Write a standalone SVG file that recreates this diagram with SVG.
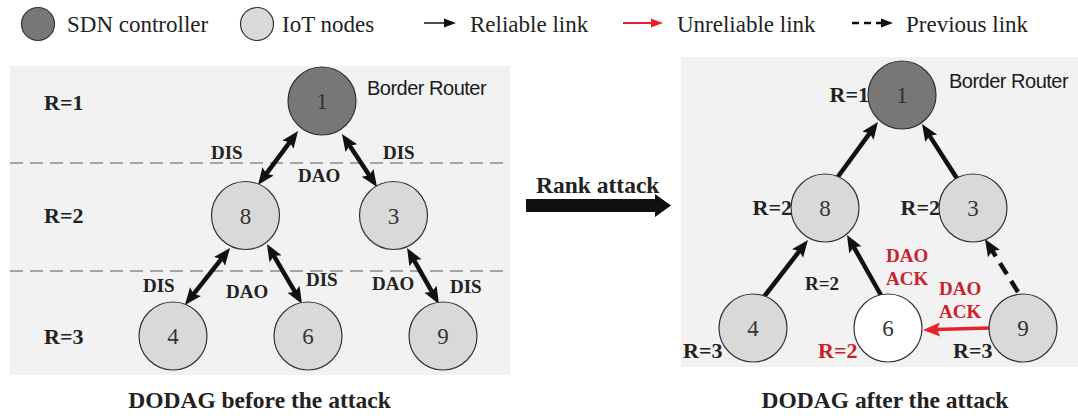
<svg xmlns="http://www.w3.org/2000/svg" width="1078" height="418" viewBox="0 0 1078 418">
  <style>
    .panel { fill: #f2f2f2; }
    .sep { stroke: #8c8c8c; stroke-width: 1.5; stroke-dasharray: 13 7; fill: none; }
    .node circle { stroke: #333; stroke-width: 1.2; }
    .ctrl { fill: #777; }
    .iot { fill: #d9d9d9; }
    .fresh { fill: #fff; }
    .num { font-family: "Liberation Serif", serif; font-size: 23px; fill: #333; text-anchor: middle; }
    .msg { font-family: "Liberation Serif", serif; font-weight: bold; font-size: 19px; fill: #222; }
    .alert { font-family: "Liberation Serif", serif; font-weight: bold; font-size: 19px; fill: #c8232c; }
    .rank { font-family: "Liberation Serif", serif; font-weight: bold; font-size: 22px; fill: #222; }
    .br { font-family: "Liberation Sans", Arial, sans-serif; font-size: 20px; fill: #1a1a1a; letter-spacing: -0.5px; }
    .legend { font-family: "Liberation Serif", serif; font-size: 23px; fill: #222; }
    .title { font-family: "Liberation Serif", serif; font-weight: bold; font-size: 23.5px; fill: #222; text-anchor: middle; }
    .link { stroke: #111; stroke-width: 4.5; fill: none; }
    .both { marker-start: url(#head); marker-end: url(#head); }
    .one { marker-end: url(#head); }
    .prev { stroke-dasharray: 13 8; }
    .bad { stroke: #e8212b; stroke-width: 3.5; fill: none; marker-end: url(#headRed); }
  </style>
  <defs>
    <marker id="head" markerUnits="userSpaceOnUse" viewBox="-1 -8 19 16" markerWidth="19" markerHeight="16" refX="5" refY="0" orient="auto-start-reverse">
      <path d="M0,-7 L17,0 L0,7 L3,0 Z" fill="#111"/>
    </marker>
    <marker id="headRed" markerUnits="userSpaceOnUse" viewBox="-1 -8 19 16" markerWidth="19" markerHeight="16" refX="5" refY="0" orient="auto">
      <path d="M0,-7 L17,0 L0,7 L3,0 Z" fill="#e8212b"/>
    </marker>
    <marker id="tipK" markerUnits="userSpaceOnUse" viewBox="-1 -6 14 12" markerWidth="14" markerHeight="12" refX="2" refY="0" orient="auto">
      <path d="M0,-4.5 L12,0 L0,4.5 Z" fill="#111"/>
    </marker>
    <marker id="tipR" markerUnits="userSpaceOnUse" viewBox="-1 -6 14 12" markerWidth="14" markerHeight="12" refX="2" refY="0" orient="auto">
      <path d="M0,-4.5 L12,0 L0,4.5 Z" fill="#e8212b"/>
    </marker>
  </defs>

  <!-- legend -->
  <g id="legend">
    <circle cx="38" cy="24" r="16.5" class="ctrl" stroke="#333" stroke-width="1.2"/>
    <text x="67" y="32" class="legend">SDN controller</text>
    <circle cx="257" cy="24" r="16.5" class="iot" stroke="#333" stroke-width="1.2"/>
    <text x="282" y="32" class="legend">IoT nodes</text>
    <line x1="424" y1="23" x2="446" y2="23" stroke="#111" stroke-width="1.5" marker-end="url(#tipK)"/>
    <text x="470" y="32" class="legend">Reliable link</text>
    <line x1="623" y1="23" x2="653" y2="23" stroke="#e8212b" stroke-width="2" marker-end="url(#tipR)"/>
    <text x="677" y="32" class="legend">Unreliable link</text>
    <line x1="852" y1="23" x2="883" y2="23" stroke="#111" stroke-width="2.5" stroke-dasharray="7 5" marker-end="url(#tipK)"/>
    <text x="906" y="32" class="legend">Previous link</text>
  </g>

  <!-- backgrounds of the two DODAG views -->
  <rect class="panel" x="10" y="66" width="500" height="309"/>
  <rect class="panel" x="681" y="57" width="397" height="310"/>
  <line class="sep" x1="10" y1="163" x2="505" y2="163"/>
  <line class="sep" x1="10" y1="271" x2="505" y2="271"/>

  <!-- rank levels, left view -->
  <text x="44" y="110" class="rank">R=1</text>
  <text x="44" y="223" class="rank">R=2</text>
  <text x="44" y="344" class="rank">R=3</text>

  <!-- connectors -->
  <g id="connectors">
    <!-- before the attack: DIS / DAO exchanges -->
    <line class="link both" x1="290.9" y1="140.6" x2="265.1" y2="175.4"/>
    <line class="link both" x1="348.6" y1="144.0" x2="370.4" y2="177.0"/>
    <line class="link both" x1="222.6" y1="257.4" x2="192.4" y2="295.6"/>
    <line class="link both" x1="273.0" y1="254.4" x2="296.0" y2="293.6"/>
    <line class="link both" x1="413.0" y1="258.4" x2="433.0" y2="293.6"/>
    <!-- after the attack -->
    <line class="link one" x1="837" y1="178" x2="870.9" y2="131.7"/>
    <line class="link one" x1="958" y1="180" x2="928.5" y2="134.1"/>
    <line class="link one" x1="763" y1="298" x2="800.6" y2="249.5"/>
    <line class="link one" x1="882" y1="297" x2="852.9" y2="245.4"/>
    <line class="link one prev" x1="1018" y1="292" x2="991.3" y2="249.2"/>
    <line class="bad" x1="990" y1="328" x2="935" y2="329.6"/>
    <!-- transition arrow -->
    <path d="M526,199 H655 V194 L671,205.5 L655,217 V212 H526 Z" fill="#111"/>
  </g>

  <!-- message labels -->
  <text x="211" y="159" class="msg">DIS</text>
  <text x="383" y="159" class="msg">DIS</text>
  <text x="298" y="182" class="msg">DAO</text>
  <text x="143" y="292" class="msg">DIS</text>
  <text x="226" y="298" class="msg">DAO</text>
  <text x="306" y="286" class="msg">DIS</text>
  <text x="372" y="290" class="msg">DAO</text>
  <text x="450" y="293" class="msg">DIS</text>
  <text x="536" y="193" class="rank" style="font-size:23.5px">Rank attack</text>

  <!-- nodes, before the attack -->
  <g id="b1" class="node"><circle cx="322" cy="101" r="34" class="ctrl"/><text x="322" y="109" class="num">1</text></g>
  <g id="b8" class="node"><circle cx="245.5" cy="215.5" r="34" class="iot"/><text x="245.5" y="223.5" class="num">8</text></g>
  <g id="b3" class="node"><circle cx="393.5" cy="215.5" r="34" class="iot"/><text x="393.5" y="223.5" class="num">3</text></g>
  <g id="b4" class="node"><circle cx="173" cy="336" r="34" class="iot"/><text x="173" y="344" class="num">4</text></g>
  <g id="b6" class="node"><circle cx="308" cy="336" r="34" class="iot"/><text x="308" y="344" class="num">6</text></g>
  <g id="b9" class="node"><circle cx="443" cy="336" r="34" class="iot"/><text x="443" y="344" class="num">9</text></g>
  <text x="367" y="95" class="br">Border Router</text>

  <!-- nodes, after the attack -->
  <g id="a1" class="node"><circle cx="902" cy="95" r="34" class="ctrl"/><text x="902" y="103" class="num">1</text></g>
  <g id="a8" class="node"><circle cx="825" cy="208" r="34" class="iot"/><text x="825" y="216" class="num">8</text></g>
  <g id="a3" class="node"><circle cx="973" cy="208" r="34" class="iot"/><text x="973" y="216" class="num">3</text></g>
  <g id="a4" class="node"><circle cx="753" cy="328" r="34" class="iot"/><text x="753" y="336" class="num">4</text></g>
  <g id="a6" class="node"><circle cx="888" cy="328" r="34" class="fresh"/><text x="888" y="336" class="num">6</text></g>
  <g id="a9" class="node"><circle cx="1023" cy="328" r="34" class="iot"/><text x="1023" y="336" class="num">9</text></g>
  <text x="949" y="88" class="br">Border Router</text>

  <!-- rank labels, after the attack -->
  <text x="869" y="102" class="rank" text-anchor="end">R=1</text>
  <text x="792" y="215" class="rank" text-anchor="end">R=2</text>
  <text x="940" y="215" class="rank" text-anchor="end">R=2</text>
  <text x="683" y="358" class="rank">R=3</text>
  <text x="818" y="358" class="rank" style="fill:#c8232c">R=2</text>
  <text x="953" y="358" class="rank">R=3</text>
  <text x="805" y="290" class="msg">R=2</text>
  <text x="886" y="262" class="alert">DAO</text>
  <text x="886" y="285" class="alert">ACK</text>
  <text x="939" y="295" class="alert">DAO</text>
  <text x="939" y="318" class="alert">ACK</text>

  <!-- captions -->
  <text x="259.5" y="408" class="title">DODAG before the attack</text>
  <text x="885" y="408" class="title">DODAG after the attack</text>
</svg>
